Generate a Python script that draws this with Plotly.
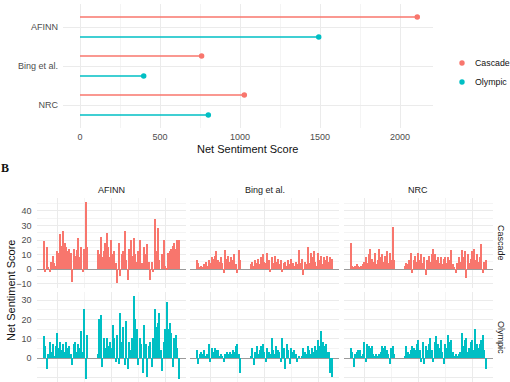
import plotly.graph_objects as go

W, H = 510, 382

# ---------------- Panel A data ----------------
LEXICONS = ["AFINN", "Bing et al.", "NRC"]
CASCADE_TOTAL = [2108, 760, 1027]
OLYMPIC_TOTAL = [1492, 398, 802]

# ---------------- Panel B data ----------------
BLOCK1_POS = list(range(1, 31))
BLOCK2_POS = list(range(37, 92))

AFINN_CASCADE = [19, -2, 15, 1, -2, 5, 9, 4, 2, 12, 11, 24, 16, 26, 18, 15, 12, 14, 11, -9,
                 14, 9, 13, 21, 8, 15, -2, 14, 46, 15,
                 13, 10, 22, 8, 12, 18, 25, 15, 8, 20, 10, 12, 4, -10, 18, -5, 10, 12, 26, 6,
                 -8, 14, 20, 9, 21, 10, 5, 12, 20, 4, 4, 15, 10, 17, 5, -8, 5, -2, 34, 12,
                 28, 6, 0, 10, 20, 2, -1, 11, 12, 14, 16, 18, 14, 20, 20]
BING_CASCADE = [6, 4, 1, 2, 1, 3, 5, 2, 6, 4, 8, 7, 9, 12, 6, 5, 8, 4, -3, 13,
                7, 9, 5, 8, 6, 10, 3, -3, 13, 6,
                3, 5, 2, 6, 4, 7, 3, 8, 10, 5, 4, 11, 6, -2, 8, 4, 9, 5, 7, 3,
                6, -2, 4, 5, 2, 6, 3, 7, 4, 2, 5, 3, 13, 4, 7, -4, 5, 3, 15, 4,
                11, 8, 12, 5, 2, 11, 6, 9, 3, 8, 6, 9, 5, 8, 7]
NRC_CASCADE = [18, 2, 1, 2, 3, 2, 1, 2, 3, 5, 8, 4, 10, 14, 7, 5, 11, 3, 6, 14,
               8, 10, 5, 9, 12, 4, 11, 6, 29, 6,
               2, 4, 3, 6, 11, -3, 6, 9, 5, 11, 6, 10, 4, 8, -4, 6, 9, 5, 10, 14,
               10, 6, 8, 4, 8, 3, 7, 8, 4, 8, 6, 13, 3, 1, -3, 4, 8, 5, 13, 8,
               12, -6, 10, 4, 7, 12, 14, 6, 10, 5, 8, 17, -3, 5, 6]
AFINN_OLYMPIC = [11, 6, -6, 2, 8, 3, 7, 1, 6, 13, 5, 8, 4, 7, 3, 8, 5, 6, 2, -4,
                 7, 8, 3, 7, 5, 14, 3, 25, -11, 12,
                 2, 20, 22, -5, 10, 5, 10, 6, 8, 5, 17, 10, -2, 12, -3, 23, 8, 16, -4, 19,
                 -6, 8, 4, 10, 32, 20, 15, -4, 10, 7, -8, 17, 7, -10, 6, 8, -5, 10, 25, 16,
                 18, 23, 4, -7, 8, 15, 29, 15, 18, 13, -5, 10, 12, 5, -11]
BING_OLYMPIC = [4, -3, 2, 3, 2, 4, 1, 2, 7, -2, 5, 3, 5, 4, 4, 1, 2, 1, -2, 2,
                3, 2, 3, 2, 4, 3, 6, 7, 2, -8,
                1, 5, -4, 3, 6, 2, 4, 6, 7, 3, -2, 5, 3, 2, 10, 4, 2, 6, 4, 3,
                -2, 10, 5, -6, 7, 4, -3, 5, 3, 4, 2, -2, 1, 0, 1, 5, 3, 2, 6, 4,
                2, 5, 3, 6, 4, 9, 6, 14, 8, 6, 7, 3, 3, -8, -10]
NRC_OLYMPIC = [5, 3, -5, 2, 3, 4, 4, 1, 2, 8, -2, 7, 6, 5, 6, 2, 1, 2, 1, 2,
               3, 6, 5, 6, 4, 2, -3, 5, 6, 2,
               1, 6, 3, 2, 4, 6, 5, 4, 7, 9, 4, -2, 8, -3, 6, 4, 7, 10, 4, -2,
               8, 11, 7, 5, 9, 3, -3, 7, 5, 12, 8, 9, 3, 1, 2, 1, 2, 3, 13, 6,
               9, 10, 3, 5, 8, 9, 4, 15, 7, 5, 7, 9, 12, 4, -6]

RED = "#F8766D"
TEAL = "#00BFC4"
GRID = "#EBEBEB"
GRID_MINOR = "#F4F4F4"
FONT = "Liberation Sans"
TICK_COL = "#4D4D4D"


def px_x(px):
    return px / W


def px_y(py):
    return 1 - py / H


fig = go.Figure()

# ---------------- Panel A: lollipops ----------------
ybase = {name: 3 - i for i, name in enumerate(LEXICONS)}
offsets = {"Cascade": 0.256, "Olympic": -0.256}
for site, vals, col in [("Cascade", CASCADE_TOTAL, RED), ("Olympic", OLYMPIC_TOTAL, TEAL)]:
    xs, ys = [], []
    for name, v in zip(LEXICONS, vals):
        yy = ybase[name] + offsets[site]
        xs += [0, v, None]
        ys += [yy, yy, None]
    fig.add_trace(go.Scatter(x=xs, y=ys, mode="lines", line=dict(color=col, width=1.5),
                             xaxis="x", yaxis="y", hoverinfo="skip"))
    fig.add_trace(go.Scatter(x=vals, y=[ybase[n] + offsets[site] for n in LEXICONS],
                             mode="markers", marker=dict(color=col, size=5.5),
                             xaxis="x", yaxis="y", name=site))

# ---------------- Panel B: facets ----------------
positions = BLOCK1_POS + BLOCK2_POS
facets = [
    (AFINN_CASCADE, RED, 2), (BING_CASCADE, RED, 3), (NRC_CASCADE, RED, 4),
    (AFINN_OLYMPIC, TEAL, 5), (BING_OLYMPIC, TEAL, 6), (NRC_OLYMPIC, TEAL, 7),
]
for vals, col, k in facets:
    fig.add_trace(go.Bar(x=positions, y=vals, width=0.8,
                         marker=dict(color=col, line=dict(width=0)),
                         xaxis="x%d" % k, yaxis="y%d" % k))

layout = dict(
    width=W, height=H, margin=dict(l=0, r=0, t=0, b=0),
    paper_bgcolor="white", plot_bgcolor="white", showlegend=False,
    bargap=0, font=dict(family=FONT, size=9, color=TICK_COL),
)

layout["xaxis"] = dict(domain=[px_x(63), px_x(433)], range=[-106.25, 2206.25], anchor="y",
                       tick0=0, dtick=500, showgrid=True, gridcolor=GRID, gridwidth=1,
                       minor=dict(showgrid=True, gridcolor=GRID_MINOR, gridwidth=0.6, tick0=0, dtick=250),
                       zeroline=False, ticks="", ticklabelstandoff=2,
                       tickfont=dict(size=9, color=TICK_COL))
layout["yaxis"] = dict(domain=[px_y(128.4), px_y(3.6)], range=[0.4, 3.6], anchor="x",
                       tickvals=[ybase[n] for n in LEXICONS], ticktext=LEXICONS,
                       showgrid=True, gridcolor=GRID, gridwidth=1, zeroline=False, ticks="",
                       ticklabelstandoff=4, tickfont=dict(size=9, color=TICK_COL))

col_dom = [(36.5, 185.5), (190, 339), (343.5, 492.5)]
row_dom = [(198.2, 287.6, [-12.8, 48.8]), (292.3, 382, [-12.4, 34.0])]
k = 2
for r, (top, bot, rng) in enumerate(row_dom):
    for c, (l, rr) in enumerate(col_dom):
        layout["xaxis%d" % k] = dict(domain=[px_x(l), px_x(rr)], range=[-3.67, 95.67],
                                     anchor="y%d" % k, showticklabels=False,
                                     tick0=10, dtick=36, showgrid=True, gridcolor=GRID, gridwidth=1,
                                     minor=dict(showgrid=True, gridcolor=GRID_MINOR, gridwidth=0.6,
                                                tick0=10, dtick=18),
                                     zeroline=False, ticks="")
        layout["yaxis%d" % k] = dict(domain=[px_y(bot), px_y(top)], range=rng,
                                     anchor="x%d" % k, showticklabels=(c == 0),
                                     tick0=0, dtick=10, showgrid=True, gridcolor=GRID, gridwidth=1,
                                     minor=dict(showgrid=True, gridcolor=GRID_MINOR, gridwidth=0.6,
                                                tick0=0, dtick=5),
                                     zeroline=True, zerolinecolor="#9A9A9A", zerolinewidth=1.2,
                                     ticks="", ticklabelstandoff=4,
                                     tickfont=dict(size=9, color=TICK_COL))
        k += 1

annotations = []


def ann(text, x, y, size=9, color="#1A1A1A", angle=0, xanchor="center", family=FONT):
    annotations.append(dict(text=text, x=px_x(x), y=px_y(y), xref="paper", yref="paper",
                            showarrow=False, textangle=angle, xanchor=xanchor, yanchor="middle",
                            font=dict(size=size, color=color, family=family)))


ann("Net Sentiment Score", 248, 149, size=11, color="#111111")
ann("Cascade", 473, 63, size=8.8, color="#111111", xanchor="left")
ann("Olympic", 473, 82, size=8.8, color="#111111", xanchor="left")
ann("<b>B</b>", 4.5, 167.5, size=12, color="#111111", family="Liberation Serif")
ann("AFINN", 111, 190)
ann("Bing et al.", 264.5, 190)
ann("NRC", 418, 190)
ann("Cascade", 501, 243, angle=90)
ann("Olympic", 501, 337, angle=90)
ann("Net Sentiment Score", 11, 290, size=11, color="#111111", angle=-90)
layout["annotations"] = annotations

shapes = []
for yc, col in [(63, RED), (82, TEAL)]:
    shapes.append(dict(type="circle", xref="paper", yref="paper",
                       x0=px_x(462 - 2.7), x1=px_x(462 + 2.7), y0=px_y(yc + 2.7), y1=px_y(yc - 2.7),
                       fillcolor=col, line=dict(width=0)))
layout["shapes"] = shapes

fig.update_layout(**layout)
fig.write_html("out.html", config={"displayModeBar": False},
               post_script="document.body.style.margin='0';document.body.style.overflow='hidden';")
